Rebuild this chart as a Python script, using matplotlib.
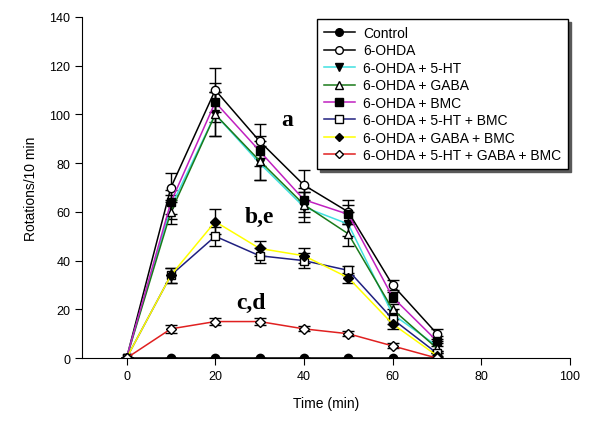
import numpy as np
import matplotlib
matplotlib.use('Agg')
import matplotlib.pyplot as plt
from matplotlib.lines import Line2D

plt.rcParams['font.family'] = ['Liberation Sans', 'DejaVu Sans']

time = [0, 10, 20, 30, 40, 50, 60, 70]

labels = ['Control', '6-OHDA', '6-OHDA + 5-HT', '6-OHDA + GABA', '6-OHDA + BMC',
          '6-OHDA + 5-HT + BMC', '6-OHDA + GABA + BMC', '6-OHDA + 5-HT + GABA + BMC']

control = [0, 0, 0, 0, 0, 0, 0, 0]
ohda = [0, 70, 110, 89, 71, 60, 30, 10]
ohda_5ht = [0, 62, 100, 80, 62, 55, 18, 5]
ohda_gaba = [0, 60, 100, 81, 63, 51, 20, 4]
ohda_bmc = [0, 64, 105, 85, 65, 59, 25, 7]
ohda_5ht_bmc = [0, 34, 50, 42, 40, 36, 16, 2]
ohda_gaba_bmc = [0, 34, 56, 45, 42, 33, 14, 1]
ohda_all = [0, 12, 15, 15, 12, 10, 5, 0]

err_control = [0, 0, 0, 0, 0, 0, 0, 0]
err_ohda = [0, 6, 9, 7, 6, 5, 2, 2]
err_5ht = [0, 5, 9, 7, 6, 5, 2, 2]
err_gaba = [0, 5, 9, 8, 5, 5, 2, 2]
err_bmc = [0, 5, 8, 6, 5, 4, 2, 2]
err_5ht_bmc = [0, 3, 4, 3, 3, 2, 2, 1]
err_gaba_bmc = [0, 3, 5, 3, 3, 2, 2, 1]
err_all = [0, 1.5, 1.5, 1.5, 1, 1, 1, 0.5]

series = [control, ohda, ohda_5ht, ohda_gaba, ohda_bmc, ohda_5ht_bmc, ohda_gaba_bmc, ohda_all]
errors = [err_control, err_ohda, err_5ht, err_gaba, err_bmc, err_5ht_bmc, err_gaba_bmc, err_all]
colors = ['black', 'black', '#40e0e0', '#1a7a1a', '#c020c0', '#202080', '#ffff00', '#e02020']
markers = ['o', 'o', 'v', '^', 's', 's', 'D', 'D']
faces = ['black', 'white', 'black', 'white', 'black', 'white', 'black', 'white']

fig = plt.figure(figsize=(6, 4.27), dpi=100)
ax = fig.add_axes([0.137, 0.159, 0.813, 0.799])

handles = []
for y, e, c, m, f, lab in zip(series, errors, colors, markers, faces, labels):
    ms = 5 if m == 'D' else 6
    ax.errorbar(time, y, yerr=e, color=c, ecolor='black', elinewidth=1, capsize=4,
                linewidth=1.1, marker=m, markersize=ms, markerfacecolor=f,
                markeredgecolor='black', markeredgewidth=1)
    handles.append(Line2D([], [], color=c, linewidth=1.1, marker=m, markersize=ms - 0.5,
                          markerfacecolor=f, markeredgecolor='black', label=lab))

ax.set_xlim(-10, 100)
ax.set_ylim(0, 140)
ax.set_xticks([0, 20, 40, 60, 80, 100])
ax.set_yticks(range(0, 141, 20))
ax.spines['top'].set_visible(False)
ax.spines['right'].set_visible(False)
ax.tick_params(direction='out', length=5, labelsize=9)
ax.set_xlabel('Time (min)', fontsize=10, labelpad=10)
ax.set_ylabel('Rotations/10 min', fontsize=10, labelpad=8)

ax.text(36.3, 98, 'a', fontsize=17, fontweight='bold', family='Liberation Serif', ha='center', va='center')
ax.text(30, 58, 'b,e', fontsize=17, fontweight='bold', family='Liberation Serif', ha='center', va='center')
ax.text(28, 23, 'c,d', fontsize=17, fontweight='bold', family='Liberation Serif', ha='center', va='center')

leg = ax.legend(handles=handles, loc='upper right', bbox_to_anchor=(1.0, 1.0), borderaxespad=0.15,
                fontsize=10, frameon=True, fancybox=False, shadow={'color': '0.35', 'alpha': 1},
                handlelength=2.2, borderpad=0.5, labelspacing=0.25, handletextpad=0.6)
leg.get_frame().set_edgecolor('black')
leg.get_frame().set_linewidth(1)

fig.savefig('out.png', dpi=100)
